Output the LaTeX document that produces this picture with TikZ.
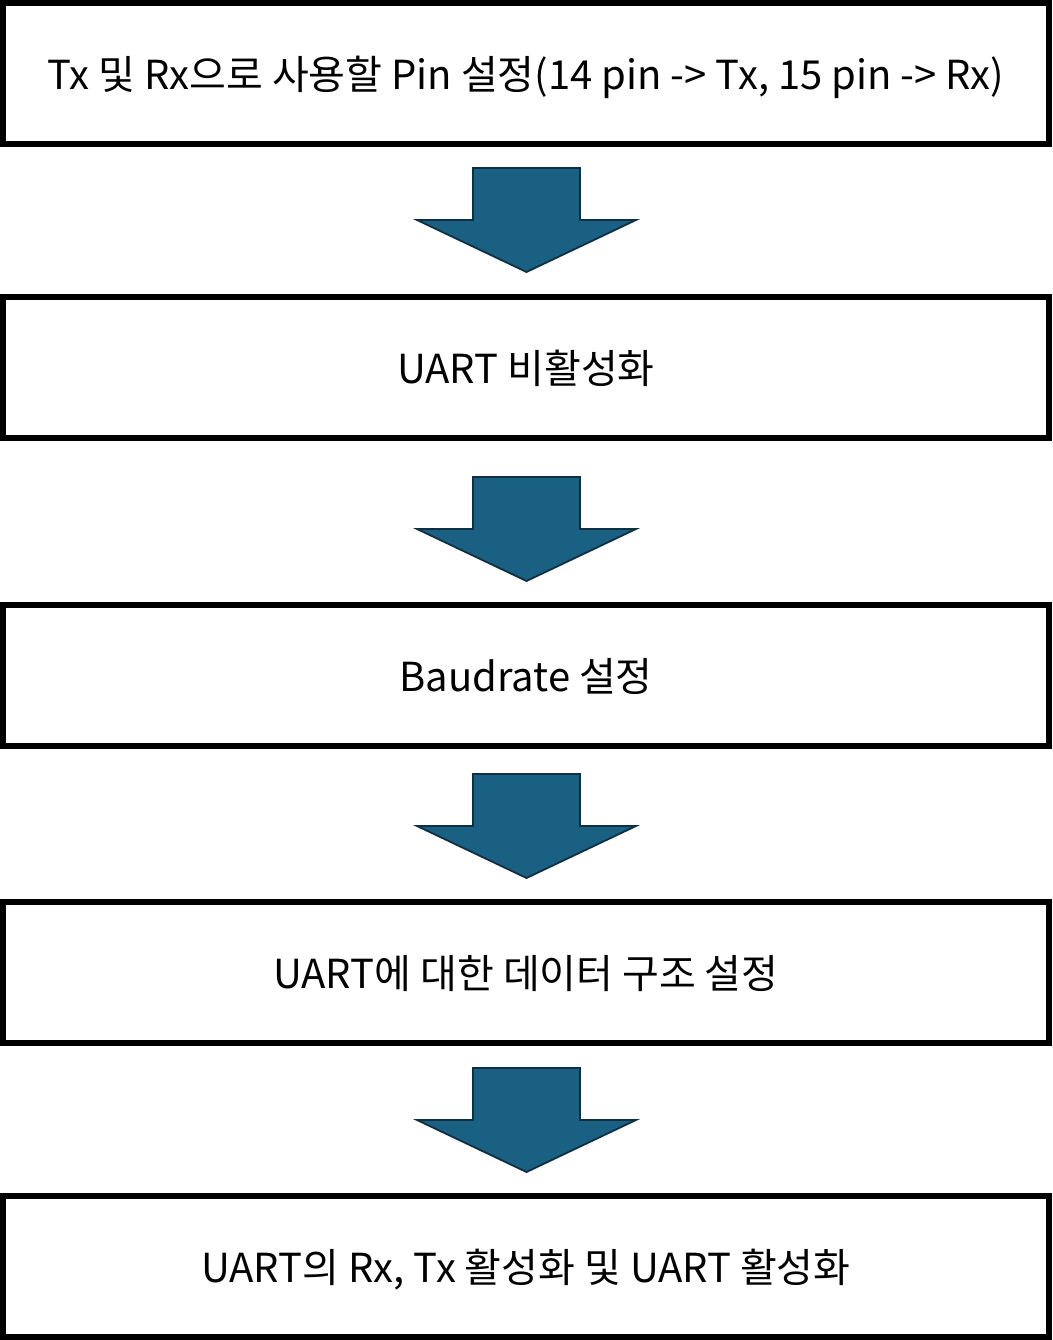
\documentclass[tikz,border=0pt]{standalone}
\usepackage{fontspec}
\setmainfont{Noto Sans CJK KR}
\begin{document}
\begin{tikzpicture}[x=1pt,y=-1pt,
  stepbox/.style={draw=black,line width=6pt,fill=white,minimum width=1046pt,minimum height=141pt,inner sep=0pt,text height=32pt,text depth=0pt,font=\fontsize{40}{48}\selectfont},
  downarrow/.style={fill=arrowfill,draw=arrowline,line width=1.8pt,line join=miter}]
\definecolor{arrowfill}{RGB}{25,96,130}
\definecolor{arrowline}{RGB}{14,48,66}
\useasboundingbox (0,0) rectangle (1052,1340);
\node[stepbox] (b1) at (526,73.5) {Tx 및 Rx으로 사용할 Pin 설정(14 pin -> Tx, 15 pin -> Rx)};
\node[stepbox] (b2) at (526,367.5) {UART 비활성화};
\node[stepbox] (b3) at (526,675.5) {Baudrate 설정};
\node[stepbox] (b4) at (526,972.5) {UART에 대한 데이터 구조 설정};
\node[stepbox] (b5) at (526,1266.5) {UART의 Rx, Tx 활성화 및 UART 활성화};
\foreach \t/\n in {168/a1,477/a2,774/a3,1068/a4}{
  \draw[downarrow] (473,\t) -- (580,\t) -- (580,\t+52) -- (636,\t+52) -- (526.5,\t+104)
    coordinate (\n) -- (417,\t+52) -- (473,\t+52) -- cycle;
}
\end{tikzpicture}
\end{document}
